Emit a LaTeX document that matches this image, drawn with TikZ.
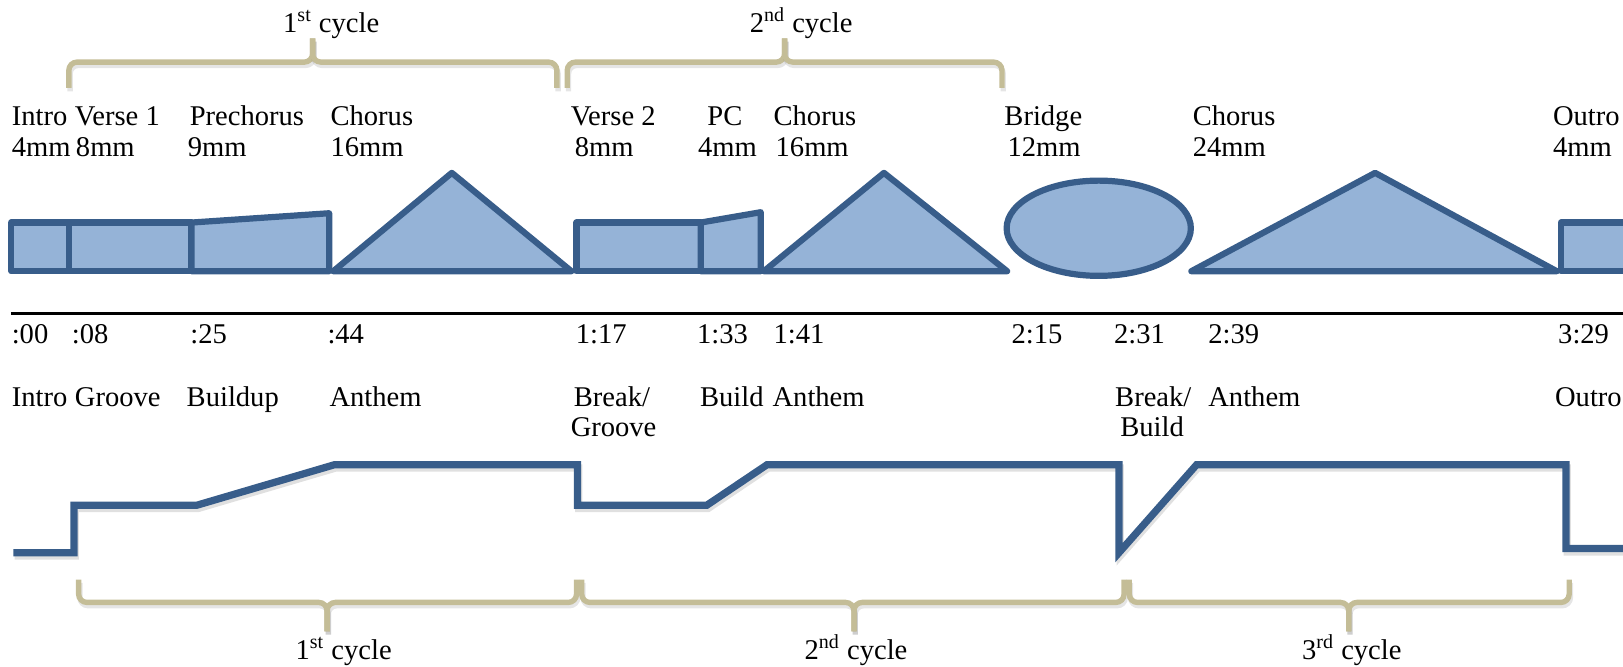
\documentclass[tikz,border=0pt]{standalone}
\usepackage{fontspec}
\setmainfont{Liberation Serif}
\definecolor{edgeblue}{HTML}{385D8A}
\definecolor{fillblue}{HTML}{95B3D7}
\definecolor{bracetan}{HTML}{C4BD97}
\begin{document}
\begin{tikzpicture}[x=0.5pt,y=-0.5pt,
  secshape/.style={draw=edgeblue, fill=fillblue, line width=3pt, line join=round},
  energy/.style={draw=edgeblue, line width=3.5pt, line join=miter,
     preaction={draw=black, opacity=0.12, line width=3.5pt, transform canvas={shift={(0.6pt,-1.6pt)}}}},
  bracket/.style={draw=bracetan, line width=2.6pt, rounded corners=4pt,
     preaction={draw=black, opacity=0.10, line width=2.6pt, transform canvas={shift={(0.6pt,-1.6pt)}}}},
  lbl/.style={anchor=base west, inner sep=0pt, font=\fontsize{13.8pt}{15pt}\selectfont},
  cyc/.style={anchor=base, inner sep=0pt, font=\fontsize{13.8pt}{15pt}\selectfont}]
\useasboundingbox (0,0) rectangle (1568,644);

% ---- top cycle brackets ----
\draw[bracket] (66.5,85) -- (66.5,60) -- (302,60) -- (302,37);
\draw[bracket] (302,37) -- (302,60) -- (538,60) -- (538,85);
\draw[bracket] (548,85) -- (548,60) -- (758,60) -- (758,37);
\draw[bracket] (758,37) -- (758,60) -- (968,60) -- (968,85);
\node[cyc] (tc1) at (320,31) {1\textsuperscript{st} cycle};
\node[cyc] (tc2) at (774,31) {2\textsuperscript{nd} cycle};

% ---- section labels ----
\node[lbl] (l1a) at (11,121) {Intro};
\node[lbl] (l1b) at (11,151.5) {4mm};
\node[lbl] (l2a) at (72,121) {Verse 1};
\node[lbl] (l2b) at (73,151.5) {8mm};
\node[lbl] (l3a) at (183,121) {Prechorus};
\node[lbl] (l3b) at (181,151.5) {9mm};
\node[lbl] (l4a) at (319,121) {Chorus};
\node[lbl] (l4b) at (319,151.5) {16mm};
\node[lbl] (l5a) at (551,121) {Verse 2};
\node[lbl] (l5b) at (555,151.5) {8mm};
\node[lbl] (l6a) at (683,121) {PC};
\node[lbl] (l6b) at (674,151.5) {4mm};
\node[lbl] (l7a) at (747,121) {Chorus};
\node[lbl] (l7b) at (749,151.5) {16mm};
\node[lbl] (l8a) at (970,121) {Bridge};
\node[lbl] (l8b) at (973,151.5) {12mm};
\node[lbl] (l9a) at (1152,121) {Chorus};
\node[lbl] (l9b) at (1152,151.5) {24mm};
\node[lbl] (l10a) at (1500,121) {Outro};
\node[lbl] (l10b) at (1500,151.5) {4mm};

% ---- section shapes ----
\begin{scope}
\clip (0,0) rectangle (1568,644);
\draw[secshape] (11,215) rectangle (66.5,262);
\draw[secshape] (66.5,215) rectangle (185,262);
\draw[secshape] (185,215) -- (318,206) -- (318,262) -- (185,262) -- cycle;
\draw[secshape] (322,262) -- (436.5,167) -- (552,262) -- cycle;
\draw[secshape] (557,215) rectangle (677,262);
\draw[secshape] (677,215) -- (735,205) -- (735,262) -- (677,262) -- cycle;
\draw[secshape] (738,262) -- (854,167) -- (973,262) -- cycle;
\draw[secshape] (1061.5,220.5) ellipse [x radius=89, y radius=46];
\draw[secshape] (1151,262) -- (1328.5,167) -- (1504,262) -- cycle;
\draw[secshape] (1508,215) rectangle (1600,262);
\end{scope}

% ---- time line ----
\draw[line width=1.3pt] (10.6,303) -- (1568,303);
\node[lbl] (t1) at (11,332) {:00};
\node[lbl] (t2) at (69,332) {:08};
\node[lbl] (t3) at (183.5,332) {:25};
\node[lbl] (t4) at (316,332) {:44};
\node[lbl] (t5) at (556,332) {1:17};
\node[lbl] (t6) at (673,332) {1:33};
\node[lbl] (t7) at (747,332) {1:41};
\node[lbl] (t8) at (977,332) {2:15};
\node[lbl] (t9) at (1076,332) {2:31};
\node[lbl] (t10) at (1167,332) {2:39};
\node[lbl] (t11) at (1505,332) {3:29};

% ---- energy labels ----
\node[lbl] (e1) at (11,393) {Intro};
\node[lbl] (e2) at (72,393) {Groove};
\node[lbl] (e3) at (180,393) {Buildup};
\node[lbl] (e4) at (318,393) {Anthem};
\node[lbl] (e5a) at (554,393) {Break/};
\node[lbl] (e5b) at (551,422) {Groove};
\node[lbl] (e6) at (676,393) {Build};
\node[lbl] (e7) at (746,393) {Anthem};
\node[lbl] (e8a) at (1077,393) {Break/};
\node[lbl] (e8b) at (1082,422) {Build};
\node[lbl] (e9) at (1167,393) {Anthem};
\node[lbl] (e10) at (1502,393) {Outro};

% ---- energy curve ----
\begin{scope}
\clip (0,0) rectangle (1568,644);
\draw[energy] (13,534) -- (71.5,534) -- (71.5,488) -- (190.5,488) -- (323,449)
  -- (558,449) -- (558,488) -- (683,488) -- (741,449) -- (1081,449) -- (1081,534)
  -- (1156,449) -- (1513,449) -- (1513,530) -- (1575,530);
\end{scope}

% ---- bottom cycle brackets ----
\draw[bracket] (76,560) -- (76,582) -- (316,582) -- (316,610);
\draw[bracket] (316,610) -- (316,582) -- (557,582) -- (557,560);
\draw[bracket] (562,560) -- (562,582) -- (825,582) -- (825,610);
\draw[bracket] (825,610) -- (825,582) -- (1086,582) -- (1086,560);
\draw[bracket] (1091,560) -- (1091,582) -- (1303,582) -- (1303,610);
\draw[bracket] (1303,610) -- (1303,582) -- (1516,582) -- (1516,560);
\node[cyc] (bc1) at (332,637) {1\textsuperscript{st} cycle};
\node[cyc] (bc2) at (827,637) {2\textsuperscript{nd} cycle};
\node[cyc] (bc3) at (1306,637) {3\textsuperscript{rd} cycle};
\end{tikzpicture}
\end{document}
